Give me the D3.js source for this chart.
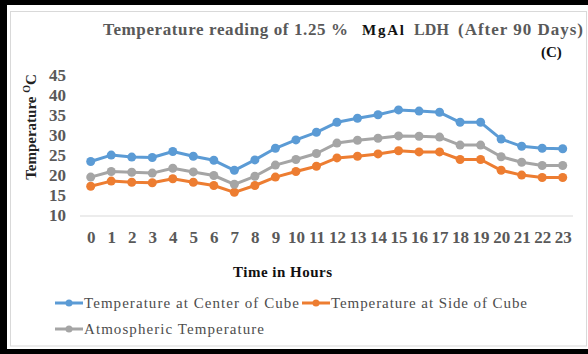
<!DOCTYPE html>
<html>
<head>
<meta charset="utf-8">
<script src="https://cdn.jsdelivr.net/npm/d3@7"></script>
<style>
  body { margin: 0; background: #fff; }
  svg { display: block; font-family: "Liberation Serif", "Times New Roman", serif; }
</style>
</head>
<body>
<svg width="588" height="354"></svg>
<script>
// hours and readings (deg C)
const hours = d3.range(0, 24);
const centerTemp = [23.5, 25.1, 24.6, 24.5, 26.0, 24.8, 23.8, 21.3, 23.9, 26.8, 28.9, 30.8,
                    33.3, 34.3, 35.2, 36.4, 36.1, 35.8, 33.3, 33.3, 29.1, 27.3, 26.8, 26.7];
const sideTemp = [17.3, 18.6, 18.3, 18.2, 19.2, 18.3, 17.5, 15.8, 17.5, 19.6, 21.0, 22.3,
                  24.4, 24.8, 25.4, 26.2, 25.9, 25.9, 24.0, 24.0, 21.3, 20.1, 19.5, 19.5];
const atmTemp = [19.6, 21.0, 20.8, 20.6, 21.8, 20.9, 20.0, 17.8, 19.8, 22.6, 24.0, 25.5,
                 28.1, 28.8, 29.3, 29.9, 29.8, 29.6, 27.6, 27.6, 24.7, 23.3, 22.5, 22.5];
const yTicks = [10, 15, 20, 25, 30, 35, 40, 45];

const series = [
  {name: "Temperature at Center of Cube", values: centerTemp, color: "#5b9bd5"},
  {name: "Temperature at Side of Cube", values: sideTemp, color: "#ed7d31"},
  {name: "Atmospheric Temperature", values: atmTemp, color: "#a5a5a5"}
];

const svg = d3.select("svg");

// frame: thick black on top/left/bottom, thin grey inner box
svg.append("rect").attr("width", 588).attr("height", 354).attr("fill", "#000");
svg.append("rect").attr("x", 7).attr("y", 5).attr("width", 581).attr("height", 344).attr("fill", "#fff");
svg.append("rect").attr("x", 10.5).attr("y", 11.5).attr("width", 576).attr("height", 334.5)
  .attr("fill", "none").attr("stroke", "#d9d9d9");

const x = d3.scalePoint().domain(hours).range([90.7, 562.7]);
const y = d3.scaleLinear().domain([10, 45]).range([215.5, 75.5]);

// title, pieces stretched to the widths seen in the picture
function titlePart(txt, x0, w, size, fill) {
  svg.append("text").attr("x", x0).attr("y", 35)
    .attr("font-weight", "bold").attr("font-size", size).attr("fill", fill)
    .attr("textLength", w).attr("lengthAdjust", "spacing").text(txt);
}
titlePart("Temperature reading of 1.25 %", 103, 245, 17, "#595959");
titlePart("MgAl", 362, 42, 15, "#111");
titlePart("LDH", 414, 35, 16, "#595959");
titlePart("(After 90 Days)", 458, 125, 17, "#595959");
svg.append("text").attr("x", 541).attr("y", 57).attr("font-weight", "bold")
  .attr("font-size", 15).attr("fill", "#111").text("(C)");

// baseline
svg.append("line").attr("x1", 80).attr("x2", 573)
  .attr("y1", y(10) + 0.5).attr("y2", y(10) + 0.5)
  .attr("stroke", "#d9d9d9").attr("stroke-width", 1);

// y axis labels
const yAxis = d3.axisLeft(y).tickValues(yTicks).tickSize(0).tickPadding(0);
svg.append("g").attr("transform", "translate(66,0)").call(yAxis)
  .call(g => g.select(".domain").remove())
  .selectAll("text")
  .attr("font-family", "Liberation Serif").attr("font-weight", "bold")
  .attr("font-size", 17).attr("fill", "#595959");

// x axis labels
const xAxis = d3.axisBottom(x).tickSize(0).tickPadding(0);
svg.append("g").attr("transform", "translate(0,231)").call(xAxis)
  .call(g => g.select(".domain").remove())
  .selectAll("text")
  .attr("font-family", "Liberation Serif").attr("font-weight", "bold")
  .attr("font-size", 17).attr("fill", "#595959");

// axis titles
svg.append("text").attr("x", 233).attr("y", 277)
  .attr("textLength", 99).attr("lengthAdjust", "spacing")
  .attr("font-weight", "bold").attr("font-size", 15).attr("fill", "#111").text("Time in Hours");
const yt = svg.append("text").attr("transform", "translate(36,127) rotate(-90)")
  .attr("text-anchor", "middle").attr("font-weight", "bold").attr("font-size", 15).attr("fill", "#222");
yt.append("tspan").text("Temperature ");
yt.append("tspan").attr("font-size", 10).attr("dy", -6).text("O");
yt.append("tspan").attr("dy", 6).text("C");

// lines and markers
const line = d3.line().x((d, i) => x(hours[i])).y(d => y(d));
series.forEach(s => {
  svg.append("path").datum(s.values).attr("d", line)
    .attr("fill", "none").attr("stroke", s.color).attr("stroke-width", 3)
    .attr("stroke-linejoin", "round");
  svg.append("g").selectAll("circle").data(s.values).join("circle")
    .attr("cx", (d, i) => x(hours[i])).attr("cy", d => y(d))
    .attr("r", 4.5).attr("fill", s.color);
});

// legend
const legendPos = [[55, 303, 215], [302, 303, 196], [55, 329, 180]];
series.forEach((s, i) => {
  const [lx, ly, tw] = legendPos[i];
  const g = svg.append("g").attr("transform", `translate(${lx},${ly})`);
  g.append("line").attr("x1", 0).attr("x2", 28).attr("stroke", s.color).attr("stroke-width", 3);
  g.append("circle").attr("cx", 14).attr("r", 3.5).attr("fill", s.color);
  g.append("text").attr("x", 29).attr("y", 5).attr("font-size", 15)
    .attr("textLength", tw).attr("lengthAdjust", "spacing")
    .attr("fill", "#4d4d4d").text(s.name);
});
</script>
</body>
</html>
